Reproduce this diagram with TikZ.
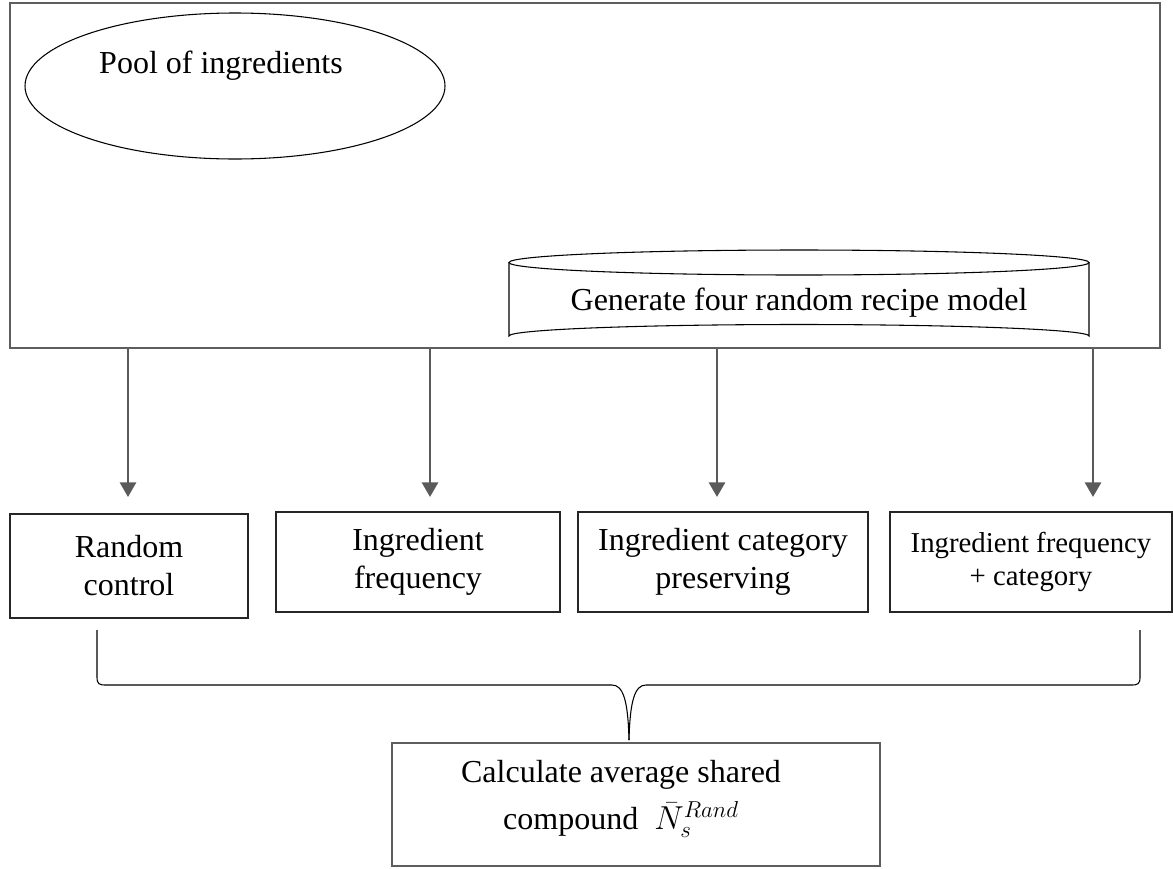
\documentclass[tikz,border=0pt]{standalone}
\usepackage{fontspec}
\setmainfont{Liberation Serif}
\usetikzlibrary{shapes.geometric,arrows.meta}
\definecolor{framegray}{HTML}{5E5E5E}
\definecolor{arrowgray}{HTML}{5A5A5A}
\tikzset{
  txt/.style={inner sep=0pt, align=center, font=\fontsize{24pt}{28.5pt}\selectfont},
  modelbox/.style={draw=black!85, line width=1pt, rectangle, inner sep=0pt, align=center,
                   font=\fontsize{24pt}{28.5pt}\selectfont},
  bigframe/.style={draw=framegray, line width=1.9pt, rectangle, inner sep=0pt},
  flowarrow/.style={draw=arrowgray, line width=2.2pt, -{Triangle[length=11pt,width=12pt]}},
  bracestyle/.style={draw=black, line width=0.8pt},
  shapeline/.style={draw=black, line width=0.8pt}
}
\begin{document}
\begin{tikzpicture}[x=0.75pt,y=-0.75pt]
\useasboundingbox (0,0) rectangle (1173,868);
% outer frame
\node[bigframe, minimum width=862.5pt, minimum height=258.75pt] (outer) at (585,175.5) {};
% pool ellipse
\node[ellipse, shapeline, inner sep=0pt, minimum width=315pt, minimum height=109.5pt] (pool) at (235,86) {};
\node[txt, anchor=base] (poolt) at (221,73) {Pool of ingredients};
% cylinder
\draw[shapeline, fill=white] (509,262.5) -- (509,336) arc[start angle=180, end angle=360, x radius=290, y radius=11.5] -- (1089,262.5);
\draw[shapeline] (799,262.5) ellipse[x radius=290, y radius=12.5];
\node[txt, anchor=base] (gen) at (799,310) {Generate four random recipe model};
% model boxes
\node[modelbox, minimum width=178.5pt, minimum height=78pt] (b1) at (129,566) {Random\\control};
\node[modelbox, minimum width=213pt, minimum height=75pt] (b2) at (418,562) {Ingredient\\frequency};
\node[modelbox, minimum width=217.5pt, minimum height=75pt] (b3) at (723,562) {Ingredient category\\preserving};
\node[modelbox, minimum width=211.5pt, minimum height=75pt, font=\fontsize{21.6pt}{25pt}\selectfont] (b4) at (1031,562) {Ingredient frequency\\+ category};
% arrows
\coordinate (t1) at (128,497);
\coordinate (t2) at (430,497);
\coordinate (t3) at (717,497);
\coordinate (t4) at (1093,497);
\draw[flowarrow] (t1 |- outer.south) -- (t1);
\draw[flowarrow] (t2 |- outer.south) -- (t2);
\draw[flowarrow] (t3 |- outer.south) -- (t3);
\draw[flowarrow] (t4 |- outer.south) -- (t4);
% calc box
\node[draw=framegray, line width=1.5pt, rectangle, inner sep=0pt, minimum width=366pt, minimum height=92.25pt] (calc) at (636,804.5) {};
\node[txt] (calct) at (621,799) {Calculate average shared\\[7pt]compound\ \ $\bar{N}_s^{Rand}$};
% brace
\coordinate (tip) at (629,740);
\draw[bracestyle] (97,630) -- (97,677) .. controls (97,684) and (99,685) .. (106,685) -- (612,685) .. controls (623,685) and (628,700) .. (tip);
\draw[bracestyle] (1140,630) -- (1140,677) .. controls (1140,684) and (1138,685) .. (1131,685) -- (646,685) .. controls (635,685) and (630,700) .. (tip);
\end{tikzpicture}
\end{document}
